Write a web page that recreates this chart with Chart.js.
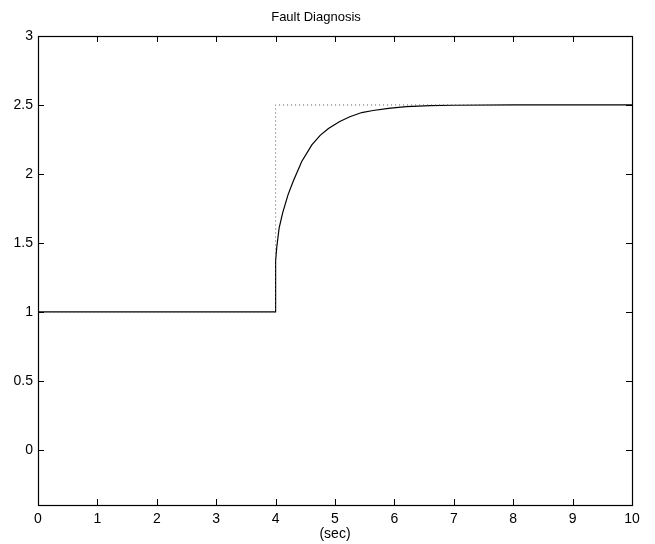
<!DOCTYPE html>
<html>
<head>
<meta charset="utf-8">
<script src="https://cdn.jsdelivr.net/npm/chart.js@4"></script>
<style>
  html, body { margin: 0; padding: 0; background: #fff; }
  #wrap { width: 655px; height: 544px; }
</style>
</head>
<body>
<div id="wrap"><canvas id="fault-chart" width="655" height="544"></canvas></div>
<script>
// Data
const estimateTime = [0, 4, 4, 4.02, 4.06, 4.12, 4.21, 4.3, 4.44, 4.61, 4.75, 4.89, 5.08, 5.25, 5.45, 5.64, 5.9, 6.2, 6.6, 7, 8, 10];
const estimateValue = [1, 1, 1.37, 1.47, 1.61, 1.72, 1.85, 1.95, 2.09, 2.21, 2.28, 2.33, 2.38, 2.415, 2.445, 2.46, 2.475, 2.488, 2.495, 2.498, 2.5, 2.5];
const faultTime = [0, 4, 4, 10];
const faultValue = [1, 1, 2.5, 2.5];
const xTickValues = [0, 1, 2, 3, 4, 5, 6, 7, 8, 9, 10];
const yTickValues = [0, 0.5, 1, 1.5, 2, 2.5, 3];

const FONT = "'Liberation Sans', Arial, sans-serif";

function toPoints(xs, ys) {
  return xs.map((x, i) => ({ x: x, y: ys[i] }));
}

// Box around the plot with inward ticks on all four sides
const boxPlugin = {
  id: "boxPlugin",
  afterDraw(chart) {
    const ctx = chart.ctx;
    const area = chart.chartArea;
    const xScale = chart.scales.x;
    const yScale = chart.scales.y;
    const tick = 6;
    ctx.save();
    ctx.strokeStyle = "#000";
    ctx.lineWidth = 1;
    ctx.beginPath();
    xTickValues.forEach((v) => {
      const px = Math.round(xScale.getPixelForValue(v)) + 0.5;
      ctx.moveTo(px, area.bottom);
      ctx.lineTo(px, area.bottom - tick);
      ctx.moveTo(px, area.top);
      ctx.lineTo(px, area.top + tick);
    });
    yTickValues.forEach((v) => {
      const py = Math.round(yScale.getPixelForValue(v)) + 0.5;
      ctx.moveTo(area.left, py);
      ctx.lineTo(area.left + tick, py);
      ctx.moveTo(area.right, py);
      ctx.lineTo(area.right - tick, py);
    });
    ctx.stroke();
    ctx.lineWidth = 1.2;
    ctx.strokeRect(
      Math.round(area.left) + 0.5,
      Math.round(area.top) + 0.5,
      Math.round(area.right - area.left),
      Math.round(area.bottom - area.top)
    );
    ctx.restore();
  },
};

const ctx = document.getElementById("fault-chart");

new Chart(ctx, {
  type: "scatter",
  data: {
    datasets: [
      {
        label: "fault",
        data: toPoints(faultTime, faultValue),
        showLine: true,
        borderColor: "#555",
        borderWidth: 1,
        borderDash: [1, 3],
        pointRadius: 0,
        tension: 0,
      },
      {
        label: "estimate",
        data: toPoints(estimateTime, estimateValue),
        showLine: true,
        borderColor: "#000",
        borderWidth: 1.2,
        pointRadius: 0,
        tension: 0,
      },
    ],
  },
  options: {
    responsive: false,
    animation: false,
    devicePixelRatio: 1,
    layout: {
      padding: { left: 0, right: 23, top: 0, bottom: 0 },
    },
    plugins: {
      legend: { display: false },
      tooltip: { enabled: false },
      title: {
        display: true,
        text: "Fault Diagnosis",
        color: "#000",
        font: { family: FONT, size: 13, weight: "normal", lineHeight: 1.2 },
        padding: { top: 10, bottom: 10.4 },
      },
    },
    scales: {
      x: {
        type: "linear",
        min: 0,
        max: 10,
        afterBuildTicks: (scale) => {
          scale.ticks = xTickValues.map((v) => ({ value: v }));
        },
        afterFit: (scale) => {
          scale.height = 39;
        },
        grid: { display: false, drawTicks: false },
        border: { display: false },
        ticks: {
          color: "#000",
          padding: 6,
          font: { family: FONT, size: 14 },
          maxRotation: 0,
          callback: (v) => String(v),
        },
        title: {
          display: true,
          text: "(sec)",
          color: "#000",
          font: { family: FONT, size: 14, lineHeight: 1.2 },
          padding: { top: 0, bottom: 1 },
        },
      },
      y: {
        type: "linear",
        min: -0.4,
        max: 3,
        afterBuildTicks: (scale) => {
          scale.ticks = yTickValues.map((v) => ({ value: v }));
        },
        afterFit: (scale) => {
          scale.width = 38;
        },
        grid: { display: false, drawTicks: false },
        border: { display: false },
        ticks: {
          color: "#000",
          padding: 5,
          font: { family: FONT, size: 14 },
          callback: (v) => String(v),
        },
      },
    },
  },
  plugins: [boxPlugin],
});
</script>
</body>
</html>
